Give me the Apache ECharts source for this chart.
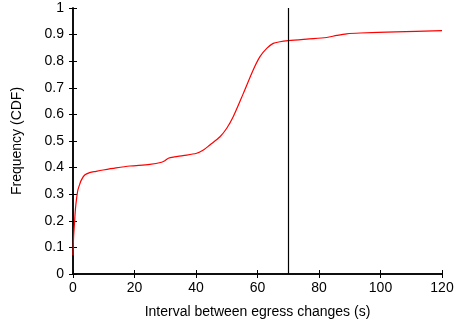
<!DOCTYPE html>
<html>
<head>
<meta charset="utf-8">
<script src="https://cdn.jsdelivr.net/npm/echarts@6/dist/echarts.min.js"></script>
<style>
  html, body { margin: 0; padding: 0; background: #fff; }
  #chart { width: 456px; height: 321px; }
</style>
</head>
<body>
<div id="chart"></div>
<script>
// interval (s) and CDF
var intervals = [0, 0.2, 0.55, 0.8, 1.1, 1.6, 2.2, 2.7, 3.8, 5.4, 7.5, 9.8, 14, 18.5, 25, 28.8, 30, 31, 33, 35.8, 40.2, 42.4, 44.5, 47.8, 50, 52.1, 55.4, 58.6, 60.8, 63, 65.1, 67.3, 70, 76, 82.5, 85.8, 89, 93.4, 105, 120];
var cdf = [0.07, 0.14, 0.203, 0.245, 0.278, 0.316, 0.338, 0.353, 0.372, 0.381, 0.386, 0.391, 0.399, 0.406, 0.412, 0.42, 0.427, 0.435, 0.44, 0.445, 0.454, 0.466, 0.485, 0.516, 0.548, 0.591, 0.679, 0.767, 0.817, 0.848, 0.867, 0.873, 0.877, 0.883, 0.889, 0.897, 0.903, 0.906, 0.91, 0.915];
var markerX = 70;

var points = intervals.map(function (x, i) { return [x, cdf[i]]; });

var chart = echarts.init(document.getElementById('chart'));
var font = 'Liberation Sans, Arial, sans-serif';
var tickIn = { show: true, inside: true, length: 4, lineStyle: { color: '#000', width: 1 } };

chart.setOption({
  animation: false,
  grid: { left: 73, top: 8, right: 14, bottom: 47, containLabel: false, outerBoundsMode: 'none' },
  xAxis: [
    {
      type: 'value', min: 0, max: 120, interval: 20,
      name: 'Interval between egress changes (s)', nameLocation: 'middle', nameGap: 31,
      nameTextStyle: { color: '#000', fontSize: 14, fontFamily: font },
      axisLine: { lineStyle: { color: '#000', width: 1.5 } },
      axisTick: tickIn,
      axisLabel: { color: '#000', fontSize: 14, fontFamily: font, margin: 7 },
      splitLine: { show: false }
    },
    {
      type: 'value', min: 0, max: 120, interval: 20, position: 'top',
      axisLine: { show: true, lineStyle: { color: '#000', width: 1.5 } },
      axisTick: tickIn, axisLabel: { show: false }, splitLine: { show: false }
    }
  ],
  yAxis: [
    {
      type: 'value', min: 0, max: 1, interval: 0.1,
      name: 'Frequency (CDF)', nameLocation: 'middle', nameGap: 49, nameRotate: 90,
      nameTextStyle: { color: '#000', fontSize: 14, fontFamily: font },
      axisLine: { show: true, lineStyle: { color: '#000', width: 1.5 } },
      axisTick: tickIn,
      axisLabel: { color: '#000', fontSize: 14, fontFamily: font, margin: 9,
        formatter: function (v) { return +v.toFixed(1) + ''; } },
      splitLine: { show: false }
    },
    {
      type: 'value', min: 0, max: 1, interval: 0.1, position: 'right',
      axisLine: { show: true, lineStyle: { color: '#000', width: 1.5 } },
      axisTick: tickIn, axisLabel: { show: false }, splitLine: { show: false }
    }
  ],
  series: [
    {
      type: 'line',
      data: points,
      smooth: 0.3,
      showSymbol: false,
      lineStyle: { color: '#ff0000', width: 1.2 },
      markLine: {
        silent: true,
        symbol: 'none',
        label: { show: false },
        lineStyle: { color: '#000', width: 1.2, type: 'solid' },
        data: [{ xAxis: markerX }]
      }
    }
  ]
});
</script>
</body>
</html>
